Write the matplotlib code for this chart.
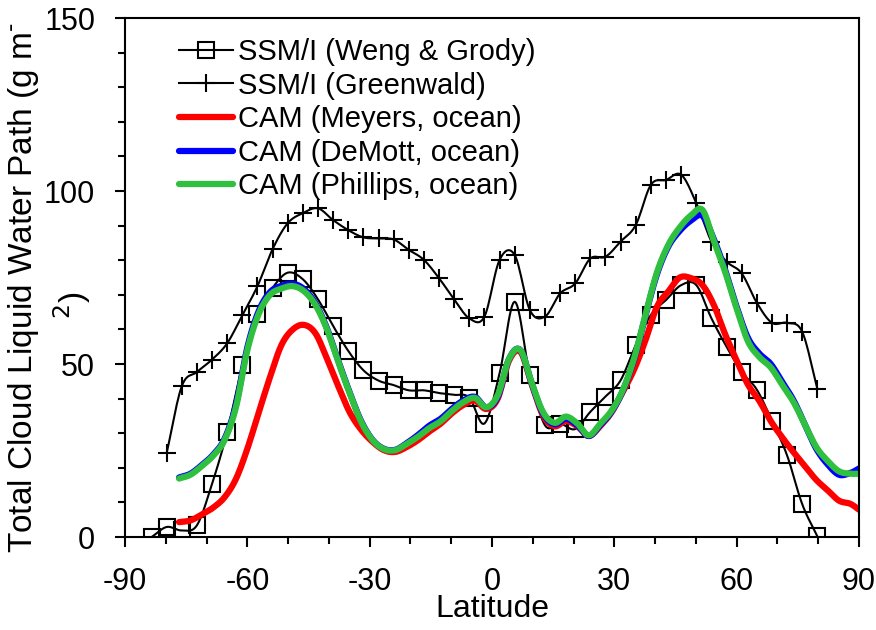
import numpy as np
import matplotlib
matplotlib.use('Agg')
import matplotlib.pyplot as plt
from matplotlib.ticker import MultipleLocator

plt.rcParams['font.family'] = ['Liberation Sans', 'DejaVu Sans']
plt.rcParams['axes.unicode_minus'] = False

# SSM/I latitudes (Gaussian grid)
lat_wg = [-83.47, -79.78, -76.07, -72.36, -68.65, -64.94, -61.23, -57.52, -53.81,
          -50.10, -46.39, -42.68, -38.97, -35.26, -31.54, -27.83, -24.12, -20.41,
          -16.70, -12.99, -9.28, -5.57, -1.86, 1.86, 5.57, 9.28, 12.99, 16.70,
          20.41, 24.12, 27.83, 31.54, 35.26, 38.97, 42.68, 46.39, 50.10, 53.81,
          57.52, 61.23, 64.94, 68.65, 72.36, 76.07, 79.78]
lwp_wg = [0.0, 2.9, 1.9, 3.4, 15.4, 30.4, 49.7, 64.4, 72.0,
          76.4, 74.5, 68.7, 61.0, 53.8, 48.2, 45.2, 43.9, 42.4,
          42.4, 41.6, 41.1, 40.3, 32.8, 47.3, 68.0, 46.8, 32.3, 32.8,
          31.2, 36.2, 40.6, 45.3, 55.5, 64.2, 68.5, 72.8, 72.8, 63.2,
          55.0, 47.7, 42.6, 33.6, 23.6, 9.5, 0.2]

lat_gw = lat_wg[1:]
lwp_gw = [24.3, 43.6, 47.7, 51.3, 56.0, 64.1, 72.5, 83.2,
          90.7, 93.6, 95.0, 91.6, 88.7, 86.6, 86.3, 86.0, 83.0,
          80.1, 74.8, 68.7, 63.2, 63.7, 80.1, 81.5, 65.6, 63.7, 70.4,
          73.3, 80.5, 81.0, 85.4, 90.2, 101.8, 103.2, 104.7, 96.5, 85.4,
          79.6, 76.2, 67.7, 61.9, 61.9, 59.3, 42.9]

# CAM latitudes (T42 ocean points)
lat_cam = [-76.74, -73.95, -71.16, -68.37, -65.58, -62.79, -60.00, -57.21, -54.42,
           -51.63, -48.84, -46.05, -43.26, -40.46, -37.67, -34.88, -32.09, -29.30,
           -26.51, -23.72, -20.93, -18.14, -15.35, -12.56, -9.77, -6.98, -4.19,
           -1.40, 1.40, 4.19, 6.98, 9.77, 12.56, 15.35, 18.14, 20.93, 23.72,
           26.51, 29.30, 32.09, 34.88, 37.67, 40.46, 43.26, 46.05, 48.84, 51.63,
           54.42, 57.21, 60.00, 62.79, 65.58, 68.37, 71.16, 73.95, 76.74, 79.53,
           82.31, 85.10, 87.86, 90.0]
lwp_meyers = [4.3, 4.8, 6.5, 8.5, 11.5, 16.8, 25.5, 36.0, 46.3,
              55.5, 60.0, 61.3, 58.8, 51.5, 43.5, 36.0, 31.0, 27.5,
              25.1, 24.6, 26.0, 28.0, 30.5, 32.8, 35.8, 38.2, 39.4,
              37.0, 40.0, 51.0, 53.5, 44.0, 35.0, 32.0, 33.5, 32.0, 29.2,
              32.0, 36.0, 42.0, 48.5, 57.0, 66.6, 71.0, 75.0, 74.8, 72.8,
              67.0, 58.5, 51.0, 44.0, 39.3, 33.5, 28.8, 24.5, 20.5, 16.5,
              13.5, 10.5, 9.6, 7.9]
lwp_demott = [17.2, 18.3, 20.8, 23.8, 28.4, 38.2, 54.8, 65.3, 70.8,
              72.6, 73.2, 71.6, 67.4, 60.3, 50.8, 41.7, 33.5, 28.1,
              25.5, 25.2, 27.1, 29.5, 32.2, 34.2, 37.1, 39.5, 40.5,
              37.5, 40.5, 51.5, 54.0, 44.3, 35.6, 32.6, 34.2, 32.3, 29.2,
              32.3, 36.2, 42.3, 51.5, 64.2, 76.0, 84.0, 88.5, 91.5, 92.8,
              86.0, 77.0, 66.5, 57.5, 53.0, 50.0, 44.8, 39.5, 32.5, 25.5,
              21.0, 18.0, 18.5, 19.8]
lwp_phillips = [16.9, 18.0, 20.5, 23.5, 28.0, 37.5, 54.0, 64.5, 70.0,
                71.8, 72.5, 71.0, 67.0, 60.0, 50.5, 41.5, 33.3, 28.0,
                25.4, 25.1, 26.9, 29.0, 31.5, 33.5, 36.5, 39.0, 40.2,
                37.5, 41.0, 51.5, 54.0, 44.5, 36.0, 33.0, 34.8, 32.8, 29.4,
                32.7, 36.5, 42.5, 51.8, 64.5, 76.5, 84.5, 89.5, 93.0, 94.5,
                85.5, 76.5, 66.0, 56.5, 52.0, 49.0, 44.0, 39.0, 32.5, 26.0,
                22.0, 19.0, 18.3, 18.3]


def smooth(x, y, n=12):
    # Catmull-Rom curve through the points, like a spreadsheet "smoothed line"
    x = np.asarray(x, float)
    y = np.asarray(y, float)
    px = np.concatenate([[2 * x[0] - x[1]], x, [2 * x[-1] - x[-2]]])
    py = np.concatenate([[2 * y[0] - y[1]], y, [2 * y[-1] - y[-2]]])
    t = np.linspace(0, 1, n, endpoint=False)
    xs, ys = [], []
    for i in range(1, len(px) - 2):
        for p, out in ((px, xs), (py, ys)):
            p0, p1, p2, p3 = p[i - 1], p[i], p[i + 1], p[i + 2]
            out.append(0.5 * (2 * p1 + (-p0 + p2) * t
                              + (2 * p0 - 5 * p1 + 4 * p2 - p3) * t ** 2
                              + (-p0 + 3 * p1 - 3 * p2 + p3) * t ** 3))
    xs.append([x[-1]])
    ys.append([y[-1]])
    return np.concatenate(xs), np.concatenate(ys)


fig = plt.figure(figsize=(8.76, 6.30), dpi=100)
ax = fig.add_axes([0.1427, 0.1476, 0.8379, 0.8238])

sx, sy = smooth(lat_wg, lwp_wg)
ax.plot(sx, sy, color='black', lw=1.5)
ax.plot(lat_wg, lwp_wg, ls='none', marker='s', ms=11, mfc='none', mec='black', mew=1.5)
sx, sy = smooth(lat_gw, lwp_gw)
ax.plot(sx, sy, color='black', lw=1.5)
ax.plot(lat_gw, lwp_gw, ls='none', marker='+', ms=13, mec='black', mew=1.5)

for vals, col in ((lwp_meyers, '#ff0000'), (lwp_demott, '#0000ff'), (lwp_phillips, '#30c040')):
    sx, sy = smooth(lat_cam, vals)
    ax.plot(sx, sy, color=col, lw=4.5, solid_capstyle='round')

# legend proxies
h1, = ax.plot([], [], color='black', lw=1.5, marker='s', ms=11, mfc='none', mew=1.5)
h2, = ax.plot([], [], color='black', lw=1.5, marker='+', ms=13, mew=1.5)
h3, = ax.plot([], [], color='#ff0000', lw=4.5, solid_capstyle='round')
h4, = ax.plot([], [], color='#0000ff', lw=4.5, solid_capstyle='round')
h5, = ax.plot([], [], color='#30c040', lw=4.5, solid_capstyle='round')
ax.legend([h1, h2, h3, h4, h5],
          ['SSM/I (Weng & Grody)', 'SSM/I (Greenwald)', 'CAM (Meyers, ocean)',
           'CAM (DeMott, ocean)', 'CAM (Phillips, ocean)'],
          loc='upper left', bbox_to_anchor=(0.05, 0.995), frameon=False, fontsize=21,
          handlelength=1.85, handletextpad=0.15, labelspacing=0.19, borderaxespad=0.2)

ax.set_xlim(-90, 90)
ax.set_ylim(0, 150)
ax.xaxis.set_major_locator(MultipleLocator(30))
ax.xaxis.set_minor_locator(MultipleLocator(10))
ax.yaxis.set_major_locator(MultipleLocator(50))
ax.yaxis.set_minor_locator(MultipleLocator(10))
ax.tick_params(which='major', direction='out', length=7, width=1.5, labelsize=22, pad=14.5)
ax.tick_params(which='minor', direction='out', length=5, width=1.5)
for s in ax.spines.values():
    s.set_linewidth(1.5)

ax.set_xlabel('Latitude', fontsize=23)
ax.xaxis.set_label_coords(0.5, -0.11)
fig.text(0.007, 0.544, 'Total Cloud Liquid Water Path (g m$^{\\text{-}}$', fontsize=24,
         rotation=90, ha='left', va='center')
fig.text(0.058, 0.515, '$^{2}$)', fontsize=24, rotation=90, ha='left', va='center')

fig.savefig('out.png', dpi=100)
